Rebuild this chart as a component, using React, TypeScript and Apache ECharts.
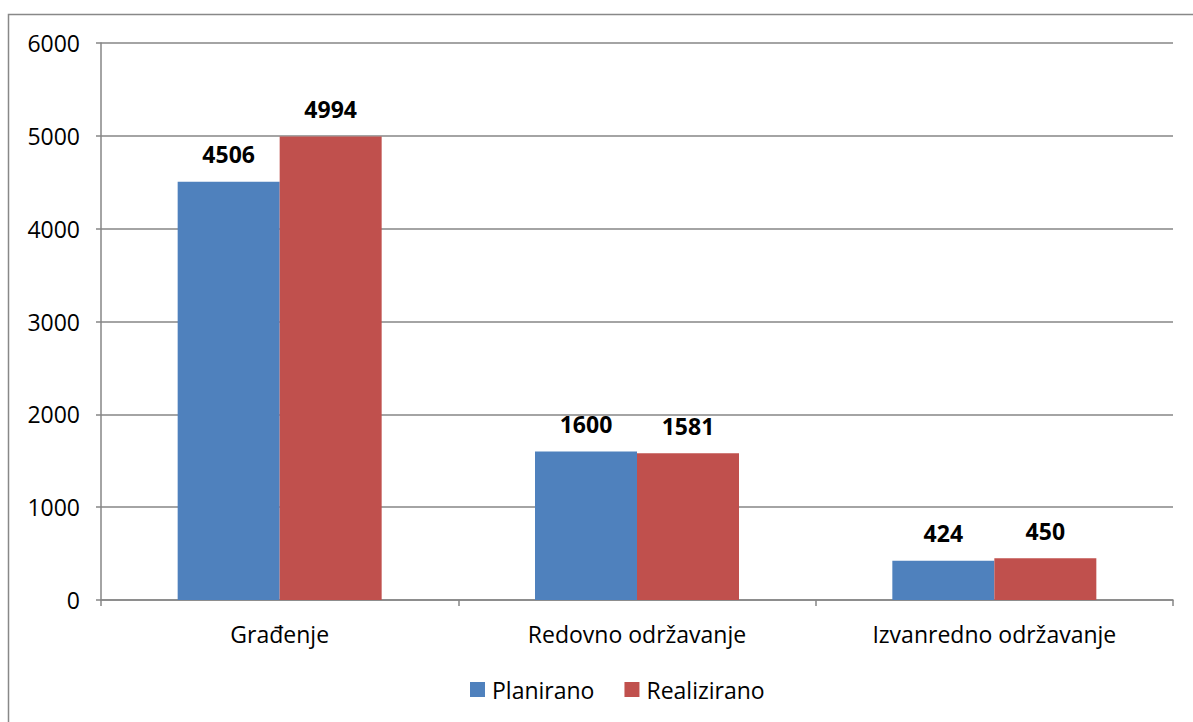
import React, { useEffect, useRef } from "react";
import * as echarts from "echarts";

const categories = ["Građenje", "Redovno održavanje", "Izvanredno održavanje"];
const planirano = [4506, 1600, 424];
const realizirano = [4994, 1581, 450];
const seriesNames = ["Planirano", "Realizirano"];

const FONT = "'Open Sans', sans-serif";
const FS = 23;

export default function App() {
  const ref = useRef<HTMLDivElement>(null);
  useEffect(() => {
    if (!ref.current) return;
    const chart = echarts.init(ref.current, null, { renderer: "svg" });
    const labelCfg = {
      show: true,
      position: "top",
      distance: 16,
      fontFamily: FONT,
      fontSize: FS,
      fontWeight: "bold",
      color: "#000",
    };
    chart.setOption({
      animation: false,
      backgroundColor: "#fff",
      textStyle: { fontFamily: FONT },
      graphic: [
        {
          type: "rect",
          shape: { x: 8.5, y: 14.5, width: 1200, height: 720 },
          style: { fill: "none", stroke: "#888", lineWidth: 1.5 },
          silent: true,
        },
      ],
      grid: { left: 101, right: 20, top: 43, bottom: 122 },
      legend: {
        bottom: 16,
        left: 465,
        icon: "rect",
        itemWidth: 15,
        itemHeight: 15,
        itemGap: 30,
        textStyle: { fontFamily: FONT, fontSize: FS, color: "#000", padding: [0, 0, 0, 2] },
        data: seriesNames,
      },
      xAxis: {
        type: "category",
        data: categories,
        axisLine: { lineStyle: { color: "#868686", width: 1.5 } },
        axisTick: { show: true, length: 6, lineStyle: { color: "#868686", width: 1.5 } },
        axisLabel: { fontFamily: FONT, fontSize: FS, color: "#000", margin: 22 },
      },
      yAxis: {
        type: "value",
        min: 0,
        max: 6000,
        interval: 1000,
        axisLine: { show: true, lineStyle: { color: "#868686", width: 1.5 } },
        axisTick: { show: true, length: 5, lineStyle: { color: "#868686", width: 1.5 } },
        splitLine: { lineStyle: { color: "#868686", width: 1.5 } },
        axisLabel: {
          fontFamily: FONT,
          fontSize: FS,
          color: "#000",
          margin: 21,
          formatter: (v: number) => String(v),
        },
      },
      series: [
        {
          name: seriesNames[0],
          type: "bar",
          data: planirano,
          barWidth: 102,
          barGap: "0%",
          itemStyle: { color: "#4F81BD" },
          label: labelCfg,
        },
        {
          name: seriesNames[1],
          type: "bar",
          data: realizirano,
          barWidth: 102,
          barGap: "0%",
          itemStyle: { color: "#C0504D" },
          label: labelCfg,
        },
      ],
    });
    return () => chart.dispose();
  }, []);
  return (
    <div
      ref={ref}
      style={{ position: "fixed", left: 0, top: 0, width: 1193, height: 722 }}
    />
  );
}
